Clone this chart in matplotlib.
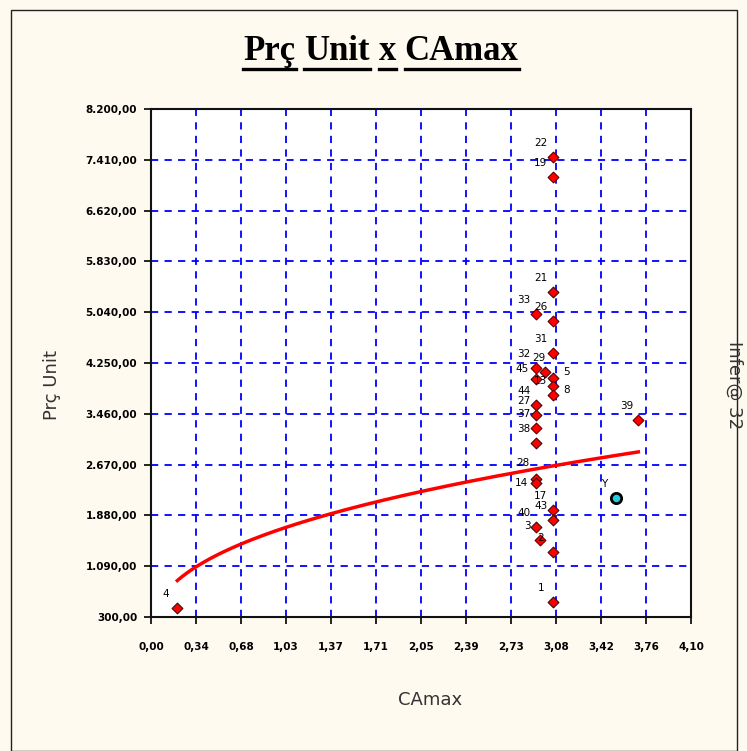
import numpy as np
import matplotlib.pyplot as plt
from matplotlib.patches import Rectangle
from matplotlib.ticker import FixedLocator, FuncFormatter

# pontos vermelhos (rotulo, CAmax, Prc Unit)
labels = ["22", "19", "21", "33", "26", "31", "32", "29", "5", "8", "45", "13",
          "44", "27", "37", "38", "28", "14", "17", "43", "40", "3", "2", "1",
          "4", "39"]
camax = [3.05, 3.05, 3.05, 2.92, 3.05, 3.05, 2.92, 2.99, 3.05, 3.05, 2.92, 3.05,
         2.92, 2.92, 2.92, 2.92, 2.92, 2.92, 3.05, 3.05, 2.92, 2.95, 3.05, 3.05,
         0.20, 3.70]
preco = [7450, 7140, 5350, 5010, 4900, 4400, 4170, 4110, 4020, 3890, 4000, 3750,
         3600, 3440, 3240, 3010, 2450, 2380, 1960, 1810, 1700, 1500, 1310, 530,
         440, 3360]

# ponto avaliado
y_x = [3.53]
y_y = [2150]

# tendencia de potencia: y = a * x^b
trend_a = 1677
trend_b = 0.41

xticks = [0.0, 0.34, 0.68, 1.03, 1.37, 1.71, 2.05, 2.39, 2.73, 3.08, 3.42, 3.76, 4.10]
yticks = [300, 1090, 1880, 2670, 3460, 4250, 5040, 5830, 6620, 7410, 8200]

# deslocamentos especiais dos rotulos (pixels)
label_offset = {"14": (-14, 0), "28": (-13, 16), "45": (-14, 10), "29": (-6, 14),
                "5": (14, 6), "8": (14, -4)}

bg = "#FFFAEF"
fig = plt.figure(figsize=(7.47, 7.51), dpi=100, facecolor=bg)
fig.patches.append(Rectangle((11 / 747, 0), (737 - 11) / 747, 1 - 10 / 751,
                             transform=fig.transFigure, fill=False,
                             edgecolor="#222222", lw=1.0))

ax = fig.add_axes([151 / 747, 134 / 751, 540 / 747, 508 / 751])
ax.set_facecolor("white")
ax.set_xlim(0, 4.10)
ax.set_ylim(300, 8200)

# grade tracejada azul
for xv in np.linspace(0, 4.10, 13)[1:-1]:
    ax.axvline(xv, color="#0000FF", lw=1.3, ls=(0, (4, 3.5)), zorder=1)
for yv in yticks[1:-1]:
    ax.axhline(yv, color="#0000FF", lw=1.3, ls=(0, (4, 3.5)), zorder=1)

# linha de tendencia
xa = np.array(camax)
xt = np.linspace(xa.min(), xa.max(), 200)
ax.plot(xt, trend_a * xt ** trend_b, color="#FF0000", lw=2.5, zorder=2)

ax.scatter(camax, preco, marker="D", s=30, color="#FF0000",
           edgecolors="#550000", linewidths=0.8, zorder=3)
ax.scatter(y_x, y_y, marker="o", s=55, color="#22CCDD",
           edgecolors="black", linewidths=2, zorder=3)

for lab, xv, yv in zip(labels, camax, preco):
    ax.annotate(lab, (xv, yv), xytext=label_offset.get(lab, (-12, 14)),
                textcoords="offset pixels", ha="center", va="center",
                fontsize=7.5, color="black", zorder=4)
ax.annotate("Y", (y_x[0], y_y[0]), xytext=(-12, 14), textcoords="offset pixels",
            ha="center", va="center", fontsize=7.5, color="black", zorder=4)

ax.xaxis.set_major_locator(FixedLocator(np.linspace(0, 4.10, 13)))
ax.set_xticklabels([f"{v:.2f}".replace(".", ",") for v in xticks])
ax.yaxis.set_major_locator(FixedLocator(yticks))
ax.yaxis.set_major_formatter(FuncFormatter(
    lambda v, p: f"{v:,.2f}".replace(",", "X").replace(".", ",").replace("X", ".")))
ax.tick_params(axis="x", length=5, width=1.2, pad=13, labelsize=7.5)
ax.tick_params(axis="y", length=5, width=1.2, pad=5, labelsize=7.5)
for lab in ax.get_xticklabels() + ax.get_yticklabels():
    lab.set_family(["Liberation Sans Narrow", "DejaVu Sans"])
    lab.set_fontweight("bold")
for s in ax.spines.values():
    s.set_linewidth(1.5)
    s.set_color("#111111")

fig.text(52 / 747, 1 - 385 / 751, "Prç Unit", rotation=90, ha="center",
         va="center", fontsize=13, color="#333333")
fig.text(430 / 747, 1 - 700 / 751, "CAmax", ha="center", va="center",
         fontsize=13, color="#333333")
fig.text(734 / 747, 1 - 385 / 751, "Infer@ 32", rotation=-90, ha="center",
         va="center", fontsize=13, color="#333333")

# titulo sublinhado palavra por palavra
words = ["Prç", "Unit", "x", "CAmax"]
tsize = 25
fig.canvas.draw()
r = fig.canvas.get_renderer()
tmp = fig.text(0, 0, "a a", fontsize=tsize, family="Liberation Serif", weight="bold")
tmp2 = fig.text(0, 0, "aa", fontsize=tsize, family="Liberation Serif", weight="bold")
space = tmp.get_window_extent(r).width - tmp2.get_window_extent(r).width
tmp.remove()
tmp2.remove()
widths = []
for w in words:
    t = fig.text(0, 0, w, fontsize=tsize, family="Liberation Serif", weight="bold")
    widths.append(t.get_window_extent(r).width)
    t.remove()
total = sum(widths) + space * (len(words) - 1)
x0 = 381 - total / 2
ybase = 751 - 60
for w, wd in zip(words, widths):
    fig.text(x0 / 747, ybase / 751, w, fontsize=tsize, family="Liberation Serif",
             weight="bold", ha="left", va="baseline", color="black")
    fig.add_artist(plt.Line2D([x0 / 747, (x0 + wd) / 747],
                              [(ybase - 9) / 751, (ybase - 9) / 751],
                              transform=fig.transFigure, color="black", lw=2.4))
    x0 += wd + space

fig.savefig("out.png", dpi=100, facecolor=bg)
